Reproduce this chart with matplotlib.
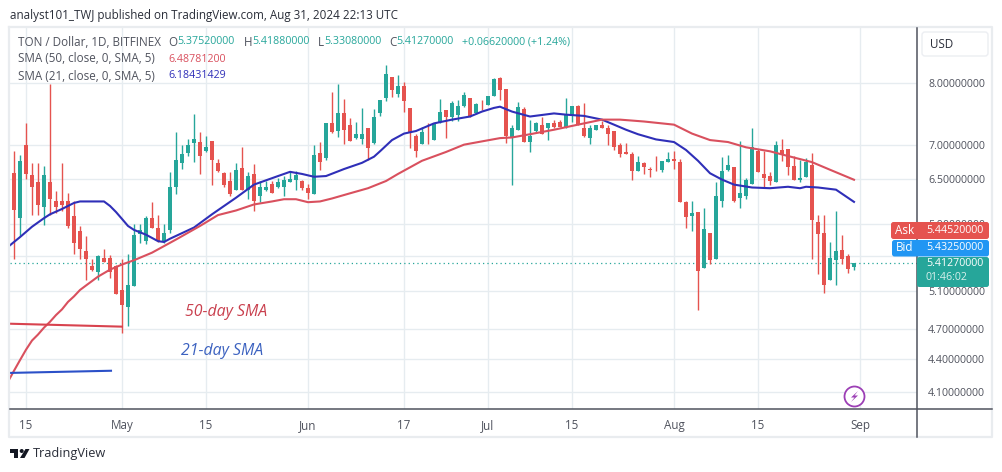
import pandas as pd
import matplotlib
matplotlib.use("Agg")
import matplotlib.pyplot as plt
from matplotlib.patches import FancyBboxPatch, Polygon, Circle
from matplotlib.lines import Line2D
from matplotlib.transforms import Affine2D

# ========== DATA ==========
START_DATE = "2024-04-13"

opens = [
    6.58, 5.97, 7.00, 6.56, 6.45, 6.11, 6.46, 6.19, 6.19, 6.19,
    6.00, 5.80, 5.56, 5.38, 5.31, 5.48, 5.48, 5.38, 5.11, 4.92,
    5.15, 5.77, 5.68, 5.97, 5.85, 5.68, 5.82, 6.38, 6.73, 6.87,
    7.02, 7.04, 6.90, 7.05, 6.73, 6.58, 6.47, 6.34, 6.65, 6.35,
    6.57, 6.27, 6.34, 6.43, 6.38, 6.38, 6.45, 6.49, 6.47, 6.37,
    6.29, 6.88, 6.80, 7.33, 7.21, 7.50, 7.31, 7.10, 7.08, 7.25,
    7.02, 7.49, 7.74, 8.10, 7.81, 7.95, 7.58, 7.13, 7.01, 7.14,
    7.07, 7.36, 7.55, 7.44, 7.47, 7.61, 7.74, 7.50, 7.63, 7.63,
    7.78, 8.09, 7.90, 7.10, 7.23, 7.56, 7.04, 7.21, 7.31, 7.26,
    7.33, 7.36, 7.28, 7.47, 7.61, 7.26, 7.10, 7.23, 7.31, 7.26,
    7.21, 7.00, 6.89, 6.86, 6.61, 6.73, 6.64, 6.63, 6.63, 6.74,
    6.79, 6.74, 6.18, 6.00, 6.05, 5.36, 5.78, 5.47, 6.20, 6.63,
    6.67, 6.23, 6.26, 6.43, 6.90, 6.57, 6.54, 6.45, 6.92, 6.93,
    6.69, 6.49, 6.53, 6.70, 5.92, 5.78, 5.22, 5.45, 5.57, 5.50,
    5.3752,
]
highs = [
    6.90, 6.84, 7.33, 6.73, 6.73, 6.69, 7.98, 6.33, 6.73, 6.30,
    6.20, 5.87, 5.74, 5.46, 5.51, 5.58, 5.51, 5.39, 5.46, 5.53,
    5.89, 5.90, 6.00, 6.18, 6.01, 5.89, 6.60, 7.19, 7.00, 7.08,
    7.48, 7.19, 7.14, 7.05, 6.79, 6.60, 6.60, 6.73, 6.96, 6.60,
    6.71, 6.47, 6.47, 6.47, 6.51, 6.54, 6.61, 6.61, 6.49, 6.43,
    7.00, 7.04, 7.33, 7.84, 7.98, 7.73, 7.42, 7.36, 7.58, 7.25,
    7.56, 7.71, 8.32, 8.10, 8.14, 8.02, 7.58, 7.16, 7.28, 7.34,
    7.33, 7.73, 7.55, 7.69, 7.71, 7.84, 7.74, 7.66, 7.71, 7.78,
    8.09, 8.10, 7.90, 7.30, 7.68, 7.60, 7.39, 7.36, 7.44, 7.33,
    7.39, 7.39, 7.74, 7.61, 7.63, 7.66, 7.31, 7.31, 7.37, 7.31,
    7.21, 7.02, 7.02, 6.89, 6.83, 6.74, 6.67, 6.83, 6.76, 6.89,
    6.90, 6.79, 6.20, 6.19, 6.05, 6.10, 5.78, 6.46, 6.82, 6.85,
    6.67, 7.05, 6.51, 7.26, 6.93, 6.90, 6.60, 7.05, 7.08, 6.93,
    6.83, 6.77, 6.80, 6.87, 6.01, 6.01, 5.67, 6.06, 5.75, 5.52,
    5.4188,
]
lows = [
    5.46, 5.74, 6.50, 6.01, 6.01, 5.88, 6.01, 6.04, 6.06, 5.85,
    5.52, 5.46, 5.22, 5.33, 5.22, 5.43, 5.25, 5.07, 4.66, 4.73,
    5.15, 5.66, 5.65, 5.84, 5.67, 5.66, 5.78, 6.29, 6.64, 6.83,
    6.74, 6.57, 6.89, 6.41, 6.60, 6.39, 6.27, 6.34, 6.35, 6.22,
    6.06, 6.18, 6.33, 6.31, 6.37, 6.26, 6.45, 6.35, 6.34, 6.22,
    6.29, 6.63, 6.77, 7.18, 7.11, 7.01, 7.05, 7.08, 7.01, 6.77,
    7.01, 7.45, 7.69, 7.76, 7.76, 7.52, 6.95, 6.82, 7.01, 7.01,
    7.07, 7.33, 7.10, 7.37, 7.37, 7.60, 7.44, 7.48, 7.55, 7.63,
    7.78, 7.71, 7.02, 6.41, 7.23, 7.04, 6.89, 7.19, 7.17, 7.07,
    7.26, 7.28, 7.26, 7.36, 7.30, 7.11, 7.01, 7.23, 7.25, 7.00,
    6.92, 6.82, 6.86, 6.49, 6.61, 6.57, 6.53, 6.61, 6.60, 6.74,
    6.64, 6.18, 5.85, 5.80, 4.89, 5.36, 5.41, 5.46, 6.12, 6.61,
    6.18, 6.10, 6.22, 6.43, 6.60, 6.39, 6.42, 6.45, 6.76, 6.56,
    6.49, 6.45, 6.53, 5.47, 5.29, 5.08, 5.22, 5.16, 5.41, 5.30,
    5.3308,
]
closes = [
    6.08, 6.76, 6.57, 6.38, 6.14, 6.56, 6.22, 6.11, 6.14, 5.87,
    5.66, 5.58, 5.47, 5.34, 5.50, 5.43, 5.31, 5.07, 4.95, 5.17,
    5.75, 5.82, 5.97, 5.84, 5.68, 5.78, 6.38, 6.77, 6.86, 7.00,
    7.08, 6.83, 6.96, 6.77, 6.61, 6.41, 6.29, 6.62, 6.35, 6.54,
    6.20, 6.38, 6.39, 6.31, 6.45, 6.49, 6.50, 6.56, 6.37, 6.31,
    6.85, 6.74, 7.33, 7.19, 7.50, 7.23, 7.05, 7.17, 7.16, 6.95,
    7.44, 7.71, 8.16, 7.88, 7.95, 7.69, 7.19, 6.90, 7.19, 7.13,
    7.33, 7.52, 7.44, 7.66, 7.61, 7.80, 7.45, 7.64, 7.62, 7.78,
    8.07, 7.88, 7.13, 7.25, 7.60, 7.04, 7.13, 7.33, 7.17, 7.33,
    7.28, 7.28, 7.47, 7.61, 7.31, 7.13, 7.25, 7.30, 7.25, 7.16,
    6.96, 6.86, 6.86, 6.61, 6.74, 6.67, 6.63, 6.62, 6.76, 6.79,
    6.76, 6.18, 5.98, 6.04, 5.32, 5.83, 5.45, 6.26, 6.61, 6.70,
    6.20, 6.30, 6.49, 6.96, 6.60, 6.51, 6.47, 7.00, 6.85, 6.67,
    6.49, 6.51, 6.74, 5.95, 5.77, 5.16, 5.48, 5.56, 5.47, 5.35,
    5.4127,
]

# SMA lines, read at candle numbers (0 = first candle)
sma21_days = [
    -1, 1, 3, 5, 6, 8, 10, 11, 15, 16, 17, 18, 19, 20, 22, 23, 24, 25, 26, 30,
    33, 37, 40, 44, 46, 48, 50, 52, 55, 58, 60, 61, 63, 65, 67, 70, 73, 76, 78,
    80, 81, 83, 86, 90, 92, 95, 98, 100, 102, 104, 107, 110, 112, 114, 116,
    118, 120, 123, 126, 129, 131, 132, 134, 137, 140,
]
sma21_vals = [
    5.61, 5.73, 5.86, 5.97, 6.02, 6.09, 6.17, 6.19, 6.19, 6.13, 6.05, 5.96,
    5.87, 5.82, 5.76, 5.72, 5.68, 5.67, 5.71, 5.85, 6.02, 6.24, 6.42, 6.54,
    6.60, 6.57, 6.53, 6.54, 6.64, 6.73, 6.82, 6.90, 7.07, 7.17, 7.21, 7.33,
    7.39, 7.44, 7.52, 7.58, 7.60, 7.52, 7.44, 7.49, 7.47, 7.45, 7.39, 7.31,
    7.23, 7.16, 7.08, 7.04, 6.92, 6.76, 6.58, 6.49, 6.42, 6.38, 6.37, 6.39,
    6.37, 6.39, 6.38, 6.35, 6.18431429,
]
sma50_days = [
    -1, 0, 1, 2, 3, 4, 5, 6, 7, 8, 9, 10, 11, 12, 14, 16, 18, 20, 23, 27, 31,
    34, 37, 40, 43, 45, 47, 49, 51, 53, 56, 59, 62, 64, 68, 72, 75, 78, 81, 83,
    86, 90, 94, 98, 101, 105, 110, 113, 116, 119, 122, 126, 129, 133, 136, 140,
]
sma50_vals = [
    4.19, 4.29, 4.39, 4.49, 4.58, 4.64, 4.71, 4.77, 4.84, 4.90, 4.98, 5.04,
    5.11, 5.16, 5.26, 5.34, 5.40, 5.45, 5.54, 5.70, 5.87, 6.01,
    6.07, 6.15, 6.19, 6.22, 6.22, 6.18, 6.19, 6.23, 6.30, 6.37, 6.47, 6.57,
    6.76, 6.89, 7.00, 7.05, 7.10, 7.11, 7.16, 7.23, 7.31, 7.39, 7.39, 7.36,
    7.31, 7.17, 7.07, 7.04, 6.96, 6.90, 6.83, 6.74, 6.63, 6.4878,
]

price_ticks = [8.0, 7.0, 6.5, 5.9, 5.5, 5.1, 4.7, 4.4, 4.1]
# 5.5 sits fully behind the price tags, so it keeps its grid line but no label
hidden_ticks = [5.5]
date_ticks = ["2024-04-15", "2024-05-01", "2024-05-15", "2024-06-01", "2024-06-17",
              "2024-07-01", "2024-07-15", "2024-08-01", "2024-08-15", "2024-09-01"]
date_labels = ["15", "May", "15", "Jun", "17", "Jul", "15", "Aug", "15", "Sep"]
# ==========================

W, H = 1003, 472
GREEN = "#26a69a"
RED = "#e5534f"
TEXT = "#50535e"
GRID = "#e6ecf0"
FONT = "Open Sans"
NUM_SIZE = 7.7
LABEL_SIZE = 8.35

plt.rcParams["font.family"] = [FONT, "DejaVu Sans"]


def fx(x):
    return x / W


def fy(y):
    return 1 - y / H


def put(fig, x, y, s, color=TEXT, size=LABEL_SIZE, ha="left", **kw):
    fig.text(fx(x), fy(y), s, color=color, fontsize=size, ha=ha, va="center", zorder=8, **kw)


def px_transform(fig):
    return Affine2D().scale(1 / W, 1 / H) + fig.transFigure


def tag(fig, x0, y0, x1, y1, color):
    fig.add_artist(FancyBboxPatch((x0, H - y1), x1 - x0, y1 - y0,
                                  boxstyle="round,pad=0,rounding_size=2.5",
                                  fc=color, ec="none", transform=px_transform(fig), zorder=6))


def draw_chart(ax):
    dates = pd.date_range(START_DATE, periods=len(opens))
    for d, o, h, l, c in zip(dates, opens, highs, lows, closes):
        color = GREEN if c >= o else RED
        ax.vlines(d, l, h, color=color, lw=1.0, zorder=3)
        ax.bar(d, abs(c - o), bottom=min(o, c), width=0.8, color=color, lw=0, zorder=3)

    base = pd.Timestamp(START_DATE)
    ax.plot([base + pd.Timedelta(days=i) for i in sma21_days], sma21_vals,
            color="#2f2fb8", lw=1.5, zorder=4)
    ax.plot([base + pd.Timedelta(days=i) for i in sma50_days], sma50_vals,
            color="#d9505e", lw=1.5, zorder=4)

    ax.axhline(closes[-1], color=GREEN, lw=0.9, ls=(0, (1, 2.5)), zorder=2)

    # hand drawn strokes next to the labels
    left = pd.Timestamp("2024-04-12 08:00")
    ax.plot([left, pd.Timestamp("2024-05-01")], [4.75, 4.72], color="#d8434f", lw=1.5, zorder=4)
    ax.plot([left, pd.Timestamp("2024-04-29 04:00")], [4.27, 4.29], color="#2b50c8", lw=1.5, zorder=4)

    ax.set_yscale("log")
    ax.set_xlim(left, pd.Timestamp("2024-09-10 12:00"))
    ax.set_ylim(3.949, 9.012)

    ax.set_yticks(price_ticks)
    ax.set_yticklabels(["" if p in hidden_ticks else f"{p:.8f}" for p in price_ticks])
    ax.minorticks_off()
    ax.yaxis.tick_right()
    ax.set_xticks(pd.to_datetime(date_ticks))
    ax.set_xticklabels(date_labels)
    ax.tick_params(axis="both", length=0, labelcolor=TEXT)
    ax.tick_params(axis="y", pad=8, labelsize=NUM_SIZE)
    ax.tick_params(axis="x", pad=7, labelsize=LABEL_SIZE)
    ax.grid(True, color=GRID, lw=1)
    ax.set_axisbelow(True)
    for s in ax.spines.values():
        s.set_visible(False)


def draw_furniture(fig):
    tr = px_transform(fig)

    def pxline(xs, ys, color, lw):
        fig.add_artist(Line2D(xs, [H - y for y in ys], color=color, lw=lw, transform=tr, zorder=5))

    pxline([9, 992, 992, 9, 9], [27, 27, 437, 437, 27], "#e9ecef", 1.6)
    pxline([10, 992], [409, 409], "#50535e", 1.1)
    pxline([917, 917], [28, 437], "#50535e", 1.1)

    # USD button
    fig.add_artist(FancyBboxPatch((922, H - 56), 66, 24, boxstyle="round,pad=0,rounding_size=3",
                                  fc="white", ec="#eceef2", lw=1, transform=tr, zorder=6))
    put(fig, 930, 44, "USD", color="#2a2e39")

    # price tags
    tag(fig, 891, 222, 989, 239, RED)
    tag(fig, 892, 240, 989, 256.5, "#2196f3")
    tag(fig, 917, 257, 989, 287, GREEN)
    put(fig, 895, 230.5, "Ask", color="white")
    put(fig, 896, 247.5, "Bid", color="white")
    put(fig, 926, 230.5, "5.44520000", color="white", size=NUM_SIZE)
    put(fig, 926, 247.5, "5.43250000", color="white", size=NUM_SIZE)
    put(fig, 926, 263.5, "5.41270000", color="white", size=NUM_SIZE)
    put(fig, 926, 278, "01:46:02", color="#d8f0ec", size=NUM_SIZE)

    # lightning badge
    fig.add_artist(Circle((854.5, H - 396.5), 10, fc="white", ec="#9c3fb5", lw=1.3, transform=tr, zorder=6))
    bolt = [(858, 391), (851, 397.5), (854.5, 397.5), (851, 402), (858, 395.5), (854.5, 395.5)]
    fig.add_artist(Polygon([(x, H - y) for x, y in bolt], fc="#9c3fb5", ec="none", transform=tr, zorder=7))

    # footer logo
    logo = [
        [(10, 449), (18.5, 449), (18.5, 458), (14.5, 458), (14.5, 453), (10, 453)],
        [(25.5, 449), (29.5, 449), (24.5, 458), (20, 458)],
    ]
    for poly in logo:
        fig.add_artist(Polygon([(x, H - y) for x, y in poly], fc="#131722", ec="none", transform=tr, zorder=7))
    fig.add_artist(Circle((21.7, H - 451), 2, fc="#131722", ec="none", transform=tr, zorder=7))
    put(fig, 33, 454, "TradingView", color="#2a2e39", size=9.2)


def draw_text(fig):
    put(fig, 10, 15, "analyst101_TWJ published on TradingView.com, Aug 31, 2024 22:13 UTC",
        color="#2a2e39", size=8.4)

    put(fig, 18, 42, "TON / Dollar, 1D, BITFINEX")
    put(fig, 18, 59, "SMA (50, close, 0, SMA, 5)")
    put(fig, 18, 76, "SMA (21, close, 0, SMA, 5)")
    put(fig, 168.5, 59, "6.48781200", color="#d9505e", size=NUM_SIZE)
    put(fig, 168.5, 76, "6.18431429", color="#2f2fb8", size=NUM_SIZE)

    for x, s in [(168, "O"), (243.5, "H"), (317.5, "L"), (389, "C")]:
        put(fig, x, 42, s)
    for x, s in [(177.5, "5.37520000"), (252, "5.41880000"), (324, "5.33080000"),
                 (396.5, "5.41270000"), (462, "+0.06620000 (+1.24%)")]:
        put(fig, x, 42, s, color=GREEN, size=NUM_SIZE)

    put(fig, 185, 312, "50-day SMA", color="#c9404e", size=11.4, style="italic")
    put(fig, 181, 351, "21-day SMA", color="#3c62c0", size=11.4, style="italic")


def main():
    fig = plt.figure(figsize=(W / 100, H / 100), dpi=100, facecolor="white")
    ax = fig.add_axes([fx(10), fy(409), fx(907), (409 - 28) / H])
    draw_chart(ax)
    draw_furniture(fig)
    draw_text(fig)
    fig.savefig("out.png", dpi=100)
    plt.close(fig)


if __name__ == "__main__":
    main()
